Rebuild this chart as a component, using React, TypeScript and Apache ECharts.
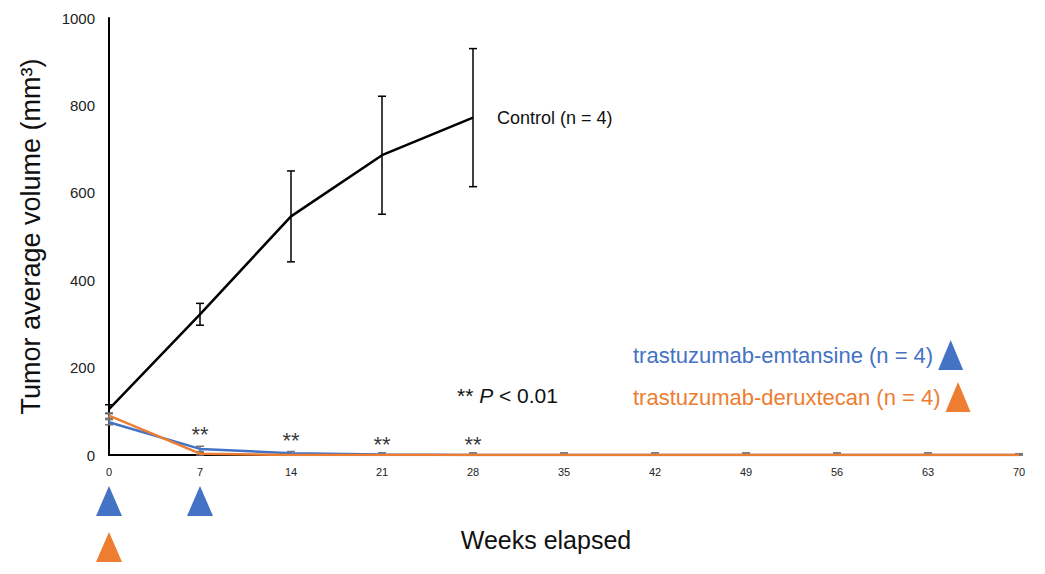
import React, { useEffect, useRef } from "react";
import * as echarts from "echarts";

const weeks = [0, 7, 14, 21, 28, 35, 42, 49, 56, 63, 70];
const controlWeeks = [0, 7, 14, 21, 28];
const controlMean = [105, 322, 546, 686, 772];
const controlSD = [10, 25, 104, 135, 158];
const emtansineMean = [75, 14, 4, 1, 0, 0, 0, 0, 0, 0, 0];
const emtansineSD = [6, 6, 4, 4, 5, 5, 5, 5, 5, 5, 3];
const deruxtecanMean = [90, 3, 0, 0, 0, 0, 0, 0, 0, 0, 0];
const deruxtecanSD = [6, 3, 2, 2, 2, 2, 2, 2, 2, 2, 2];
const sigWeeks = [7, 14, 21, 28];
const sigLabelY = [48, 34, 23, 23];
const emtansineDoses = [0, 7];
const deruxtecanDoses = [0];

const BLUE = "#4472C4";
const ORANGE = "#ED7D31";
const FONT = "Liberation Sans, Arial, sans-serif";

function errorSeries(xs: number[], mean: number[], sd: number[], color: string) {
  return {
    type: "custom",
    xAxisIndex: 0,
    yAxisIndex: 0,
    silent: true,
    z: 1,
    data: xs.map((x, i) => [x, mean[i] - sd[i], mean[i] + sd[i]]),
    renderItem: (params: any, api: any) => {
      const x = api.value(0);
      const lo = api.coord([x, Math.max(0, api.value(1))]);
      const hi = api.coord([x, api.value(2)]);
      const w = 4;
      const st = { stroke: color, lineWidth: 1.5 };
      return {
        type: "group",
        children: [
          { type: "line", shape: { x1: lo[0], y1: lo[1], x2: hi[0], y2: hi[1] }, style: st },
          { type: "line", shape: { x1: hi[0] - w, y1: hi[1], x2: hi[0] + w, y2: hi[1] }, style: st },
          { type: "line", shape: { x1: lo[0] - w, y1: lo[1], x2: lo[0] + w, y2: lo[1] }, style: st },
        ],
      };
    },
  };
}

export default function App() {
  const ref = useRef<HTMLDivElement>(null);
  useEffect(() => {
    document.body.style.margin = "0";
    const chart = echarts.init(ref.current!, null, { renderer: "svg" });
    chart.setOption({
      animation: false,
      backgroundColor: "#fff",
      textStyle: { fontFamily: FONT },
      grid: [
        { left: 109, right: 26, top: 18, bottom: 119 },
        { left: 109, right: 26, top: 478, height: 92 },
      ],
      xAxis: [
        {
          type: "value",
          gridIndex: 0,
          min: 0,
          max: 70,
          interval: 7,
          axisLine: { lineStyle: { color: "#000", width: 2 } },
          axisTick: { show: false },
          splitLine: { show: false },
          axisLabel: { color: "#222", fontSize: 11, margin: 11, fontFamily: FONT },
          name: "Weeks elapsed",
          nameLocation: "middle",
          nameGap: 72,
          nameTextStyle: { color: "#111", fontSize: 25, fontFamily: FONT, padding: [0, 36, 0, 0] },
        },
        { type: "value", gridIndex: 1, min: 0, max: 70, show: false },
      ],
      yAxis: [
        {
          type: "value",
          gridIndex: 0,
          min: 0,
          max: 1000,
          interval: 200,
          axisLine: { show: true, lineStyle: { color: "#000", width: 2 } },
          axisTick: { show: false },
          splitLine: { show: false },
          axisLabel: {
            color: "#222",
            fontSize: 15,
            margin: 14,
            fontFamily: FONT,
            formatter: (v: number) => String(v),
          },
          name: "Tumor average volume (mm³)",
          nameLocation: "middle",
          nameGap: 65,
          nameTextStyle: { color: "#111", fontSize: 27, fontFamily: FONT },
        },
        {
          type: "category",
          gridIndex: 1,
          data: ["emtansine", "deruxtecan"],
          inverse: true,
          show: false,
        },
      ],
      legend: [
        {
          left: 628,
          top: 335,
          align: "right",
          icon: "triangle",
          itemWidth: 25,
          itemHeight: 30,
          itemGap: 12,
          textStyle: { fontSize: 22, fontFamily: FONT, color: BLUE },
          data: ["trastuzumab-emtansine (n = 4)"],
        },
        {
          left: 628,
          top: 377,
          align: "right",
          icon: "triangle",
          itemWidth: 25,
          itemHeight: 30,
          itemGap: 12,
          textStyle: { fontSize: 22, fontFamily: FONT, color: ORANGE },
          data: ["trastuzumab-deruxtecan (n = 4)"],
        },
      ],
      series: [
        errorSeries(controlWeeks, controlMean, controlSD, "#000"),
        errorSeries(weeks, emtansineMean, emtansineSD, "#777"),
        errorSeries(weeks, deruxtecanMean, deruxtecanSD, "#777"),
        {
          name: "Control (n = 4)",
          type: "line",
          xAxisIndex: 0,
          yAxisIndex: 0,
          data: controlWeeks.map((x, i) => [x, controlMean[i]]),
          showSymbol: false,
          lineStyle: { color: "#000", width: 2.5 },
          itemStyle: { color: "#000" },
          z: 3,
          endLabel: {
            show: true,
            formatter: "Control (n = 4)",
            distance: 24,
            color: "#111",
            fontSize: 18,
            fontFamily: FONT,
          },
        },
        {
          name: "trastuzumab-emtansine (n = 4)",
          type: "line",
          xAxisIndex: 0,
          yAxisIndex: 0,
          data: weeks.map((x, i) => [x, emtansineMean[i]]),
          showSymbol: false,
          lineStyle: { color: BLUE, width: 2.5 },
          itemStyle: { color: BLUE },
          z: 4,
        },
        {
          name: "trastuzumab-deruxtecan (n = 4)",
          type: "line",
          xAxisIndex: 0,
          yAxisIndex: 0,
          data: weeks.map((x, i) => [x, deruxtecanMean[i]]),
          showSymbol: false,
          lineStyle: { color: ORANGE, width: 2.5 },
          itemStyle: { color: ORANGE },
          z: 5,
        },
        {
          type: "scatter",
          xAxisIndex: 0,
          yAxisIndex: 0,
          symbolSize: 1,
          itemStyle: { color: "rgba(0,0,0,0)" },
          silent: true,
          z: 6,
          data: sigWeeks.map((x, i) => [x, sigLabelY[i]]),
          label: {
            show: true,
            position: "inside",
            formatter: "**",
            color: "#000",
            textBorderWidth: 0,
            fontSize: 22,
            fontFamily: FONT,
          },
        },
        {
          type: "scatter",
          xAxisIndex: 1,
          yAxisIndex: 1,
          symbol: "triangle",
          symbolSize: [26, 30],
          itemStyle: { color: BLUE, opacity: 1 },
          silent: true,
          data: emtansineDoses.map((x) => [x, "emtansine"]),
        },
        {
          type: "scatter",
          xAxisIndex: 1,
          yAxisIndex: 1,
          symbol: "triangle",
          symbolSize: [26, 30],
          itemStyle: { color: ORANGE, opacity: 1 },
          silent: true,
          data: deruxtecanDoses.map((x) => [x, "deruxtecan"]),
        },
      ],
      graphic: [
        {
          type: "text",
          left: 457,
          top: 385,
          style: {
            text: "{a|** }{b|P}{a| < 0.01}",
            rich: {
              a: { fontSize: 21, fontFamily: FONT, fill: "#111" },
              b: { fontSize: 21, fontFamily: FONT, fontStyle: "italic", fill: "#111" },
            },
          },
        },
      ],
    });
    return () => chart.dispose();
  }, []);
  return <div ref={ref} style={{ width: 1045, height: 574 }} />;
}
